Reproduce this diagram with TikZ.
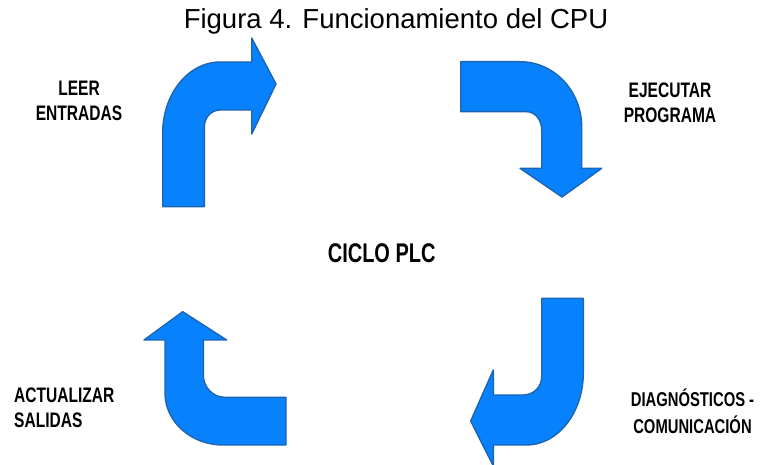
\documentclass[tikz,border=0pt]{standalone}
\usepackage{fontspec}
\setmainfont{Liberation Sans}
\newfontfamily\lblfont[FakeStretch=0.74]{Liberation Sans}
\usetikzlibrary{positioning}
\definecolor{cpublue}{RGB}{8,130,252}
\definecolor{cpuedge}{RGB}{28,100,180}

\begin{document}
\begin{tikzpicture}[x=1pt, y=-1pt,
    bigarrow/.style={fill=cpublue, draw=cpuedge, line width=1.4pt, line join=round},
    lbl/.style={inner sep=0pt, align=center, font=\lblfont\bfseries\fontsize{21}{25}\selectfont}]
    \useasboundingbox (0,0) rectangle (764,465);

    % Title
    \node[anchor=base, inner sep=0pt, font=\fontsize{27.5}{30}\selectfont] (titulo) at (396,28.5)
        {Figura 4. Funcionamiento del CPU};

    % Arrow 1: leer entradas (up, then right)
    \draw[bigarrow] (162.7,206.7) -- (162.7,133)
        .. controls (162.7,93.8) and (188.4,62) .. (220,62) -- (251.7,62)
        -- (251.7,38) -- (276,84) -- (251.7,134) -- (251.7,110) -- (220,110)
        .. controls (211.3,110) and (204.3,117.6) .. (204.3,127) -- (204.3,206.7) -- cycle;

    % Arrow 2: ejecutar programa (right, then down)
    \draw[bigarrow] (460.7,61.7) -- (520,61.7)
        .. controls (554.1,61.7) and (581.7,90.9) .. (581.7,127) -- (581.7,168.3)
        -- (601.7,168.3) -- (562,197) -- (520,168.3) -- (541.7,168.3) -- (541.7,130)
        .. controls (541.7,119.9) and (535,111.7) .. (526.7,111.7) -- (460.7,111.7) -- cycle;

    % Arrow 3: diagnosticos (down, then left)
    \draw[bigarrow] (541.7,298.3) -- (583.3,298.3) -- (583.3,373)
        .. controls (583.3,412.7) and (557.9,445) .. (526.7,445) -- (493.3,445)
        -- (493.3,466) -- (470.7,421) -- (493.3,370) -- (493.3,395) -- (523.3,395)
        .. controls (533.5,395) and (541.7,386.8) .. (541.7,376.7) -- cycle;

    % Arrow 4: actualizar salidas (left, then up)
    \draw[bigarrow] (182.7,311.7) -- (226.7,340) -- (203.3,340) -- (203.3,375)
        .. controls (203.3,387.3) and (213,397.3) .. (225,397.3) -- (286,397.3)
        -- (286,445) -- (223,445)
        .. controls (191,445) and (165,421.7) .. (165,393) -- (165,340) -- (144,340) -- cycle;

    % Labels
    \node[lbl] (leer) at (79,101) {LEER\\ENTRADAS};
    \node[lbl] (ejecutar) at (670,103) {EJECUTAR\\PROGRAMA};
    \node[lbl, font=\lblfont\bfseries\fontsize{27}{30}\selectfont] (ciclo) at (381.7,253.7) {CICLO PLC};
    \node[lbl, font=\lblfont\bfseries\fontsize{20}{27}\selectfont] (diag) at (692.5,411) {DIAGNÓSTICOS -\\COMUNICACIÓN};
    \node[lbl, align=left, anchor=west] (actualizar) at (14,408) {ACTUALIZAR\\SALIDAS};
\end{tikzpicture}
\end{document}
